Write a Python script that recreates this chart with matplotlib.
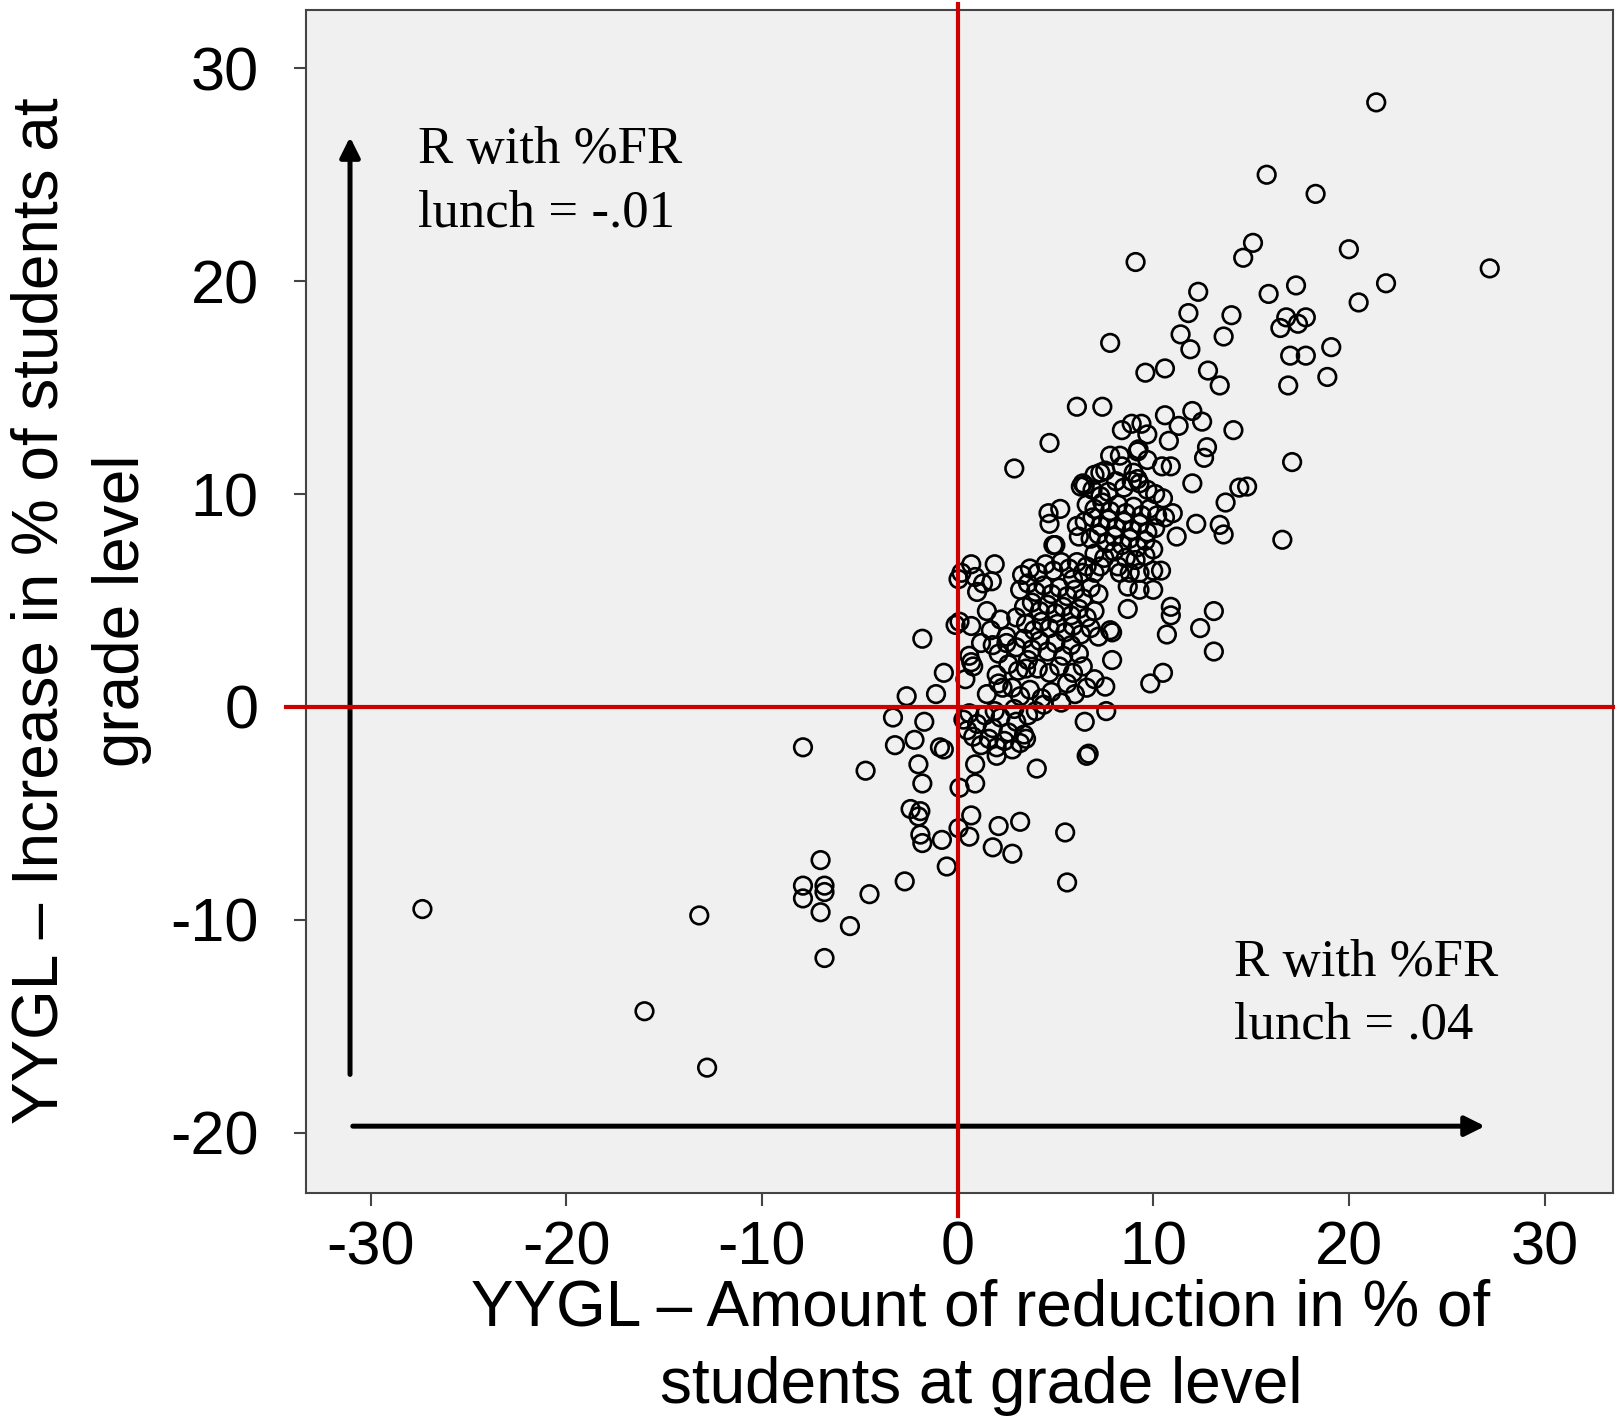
import matplotlib
matplotlib.use("Agg")
import matplotlib.pyplot as plt

plt.rcParams['font.family'] = ['Liberation Sans', 'DejaVu Sans']
plt.rcParams['axes.unicode_minus'] = False

# points (reduction %, increase %)
# upper right arm
x_upper = [21.4, 15.8, 18.3, 15.1, 14.6, 9.1, 20.0, 27.2, 21.9, 20.5, 17.3, 15.9, 12.3, 11.8,
           14.0, 11.4, 13.6, 11.9, 7.8, 16.8, 17.8, 17.4, 16.5, 19.1, 17.0, 17.8, 18.9, 16.9,
           9.6, 10.6, 12.8, 13.4, 6.1, 7.4, 10.6, 12.0]
y_upper = [28.4, 25.0, 24.1, 21.8, 21.1, 20.9, 21.5, 20.6, 19.9, 19.0, 19.8, 19.4, 19.5, 18.5,
           18.4, 17.5, 17.4, 16.8, 17.1, 18.3, 18.3, 18.0, 17.8, 16.9, 16.5, 16.5, 15.5, 15.1,
           15.7, 15.9, 15.8, 15.1, 14.1, 14.1, 13.7, 13.9]

# right side, y between 0 and 14
x_right = [8.4, 8.9, 9.4, 9.7, 11.3, 12.5, 14.1, 10.8, 9.25, 8.3, 12.75, 12.6, 17.1, 10.45,
           10.9, 12.0, 14.4, 14.8, 13.7, 12.2, 13.4, 13.6, 11.2, 16.6, 10.0, 10.4, 10.9, 10.9,
           13.1, 12.4, 10.7, 8.7, 13.1, 7.9, 7.9, 10.5, 9.85, 7.55, 11.0]
y_right = [13.0, 13.3, 13.3, 12.8, 13.2, 13.4, 13.0, 12.5, 12.1, 11.8, 12.2, 11.7, 11.5, 11.3,
           11.3, 10.5, 10.3, 10.35, 9.6, 8.6, 8.55, 8.1, 8.0, 7.85, 6.4, 6.4, 4.7, 4.3,
           4.5, 3.7, 3.4, 4.6, 2.6, 3.5, 2.2, 1.6, 1.1, 0.95, 9.1]

# main cluster, y between 6 and 13
x_mid = [4.7, 2.9, 9.2, 7.55, 7.3, 6.4, 6.3, 9.2, 4.65, 5.25, 4.7, 5.0, 6.1, 6.2, 5.9, 6.4,
         8.3, 8.8, 9.3, 8.7, 9.3, 10.0, 7.8, 8.4, 9.0, 9.7, 7.0,
         6.5, 6.9, 7.3, 7.7, 8.1, 8.5, 8.9, 9.3, 9.7, 10.1, 10.5,
         6.6, 7.0, 7.4, 7.8, 8.2, 8.6, 9.0, 9.4, 9.8, 10.2, 10.6,
         6.5, 6.9, 7.3, 7.7, 8.1, 8.5, 8.9, 9.3, 9.7, 10.1,
         6.8, 7.2, 7.6, 8.0, 8.4, 8.8, 9.2, 9.6, 10.0,
         7.0, 7.5, 8.0, 8.6, 9.1, 9.6, 7.3, 8.2]
y_mid = [12.4, 11.2, 12.0, 11.1, 11.0, 10.5, 10.35, 10.7, 9.1, 9.3, 8.6, 7.6, 8.5, 8.0, 6.0, 6.3,
         6.3, 6.3, 6.3, 5.65, 5.5, 5.5, 11.8, 11.3, 11.0, 11.6, 10.9,
         10.4, 10.2, 9.9, 10.1, 10.6, 10.3, 10.6, 10.5, 10.2, 10.0, 9.8,
         9.5, 9.3, 9.6, 9.2, 9.5, 9.1, 9.4, 9.0, 9.3, 9.0, 8.9,
         8.7, 8.9, 8.5, 8.8, 8.4, 8.7, 8.3, 8.6, 8.2, 8.4,
         7.9, 8.1, 7.7, 8.0, 7.6, 7.9, 7.5, 7.8, 7.4,
         7.2, 7.0, 7.3, 7.0, 6.9, 7.1, 6.6, 6.6]

# cluster between 3 and 7
x_low = [3.3, 3.7, 4.1, 4.5, 4.9, 5.3, 5.7, 6.1, 6.6, 7.0,
         3.2, 3.6, 4.0, 4.4, 4.8, 5.2, 5.6, 6.0, 6.4, 6.8, 7.2,
         3.4, 3.8, 4.2, 4.6, 5.0, 5.4, 5.8, 6.2, 6.6, 7.0,
         3.5, 3.9, 4.3, 4.7, 5.1, 5.5, 5.9, 6.3, 6.8, 7.2]
y_low = [6.2, 6.5, 6.3, 6.7, 6.4, 6.8, 6.5, 6.8, 6.6, 6.3,
         5.5, 5.8, 5.4, 5.7, 5.3, 5.6, 5.2, 5.5, 5.1, 5.6, 5.3,
         4.7, 4.9, 4.5, 4.8, 4.4, 4.7, 4.3, 4.6, 4.2, 4.5,
         3.9, 3.6, 4.0, 3.7, 3.9, 3.5, 3.8, 3.4, 3.7, 3.3]

# around the origin
x_orig = [-1.8, -0.7, -1.1, -2.6, 0.2, 0.7, 1.9, 0.9, 1.3, 1.75, 1.0, 0.05, 1.5, 0.1, -0.1,
          0.7, 1.7, 2.2, 3.0, 0.6, 0.7, 0.8, 0.4, 2.1, 2.0, 2.1, 3.5, 4.7, 5.6, 6.4, 7.0,
          7.8, 6.5, 6.7, 4.9, 1.2, 2.5, 1.8, 0.3,
          2.5, 3.0, 3.4, 3.8, 4.2, 4.6, 5.0, 5.4, 5.8, 6.2, 2.6, 3.1, 3.6, 4.1, 5.2, 5.9,
          2.8, 3.2, 3.7, 4.3, 4.8, 5.3, 6.0, 6.6,
          0.6, 1.0, 1.4, 1.8, 2.2, 2.6, 3.0, 3.4, 0.8, 1.2, 1.6, 2.0, 2.4, 2.8, 3.2, 0.5,
          1.9, 2.9, 3.6, 4.0, 4.4, 1.5, 2.3]
y_orig = [3.2, 1.6, 0.6, 0.5, 6.3, 6.7, 6.7, 6.1, 5.8, 5.9, 5.4, 6.0, 4.5, 4.0, 3.85,
          3.8, 3.6, 4.1, 4.2, 2.4, 2.1, 1.9, 1.3, 2.5, 1.5, 1.1, 1.8, 1.6, 1.1, 1.9, 1.3,
          3.6, -0.7, -2.2, 7.6, 3.0, 3.3, 2.9, -0.6,
          3.0, 2.8, 3.2, 2.7, 3.1, 2.6, 3.0, 2.4, 2.9, 2.5, 2.0, 1.7, 2.2, 1.8, 1.9, 1.6,
          0.9, 0.5, 0.8, 0.4, 0.7, 0.2, 0.6, 0.9,
          -0.3, -0.8, -0.4, -1.0, -0.5, -1.2, -0.7, -1.3, -1.4, -1.8, -1.5, -1.9, -1.6, -2.0, -1.7, -1.1,
          -0.2, -0.1, -0.4, -0.2, 0.1, 0.6, 0.9]

# below zero
x_neg = [-3.3, -1.7, -3.2, -2.2, -0.9, -0.7, -2.0, -4.7, -1.8, 0.1, 0.9, 0.9, -2.4, -1.9,
         -2.0, -1.9, -1.8, -0.8, 0.05, 0.7, 0.6, 2.1, 3.2, 1.8, 2.8, -0.55, -2.7, -4.5,
         5.5, 5.6, 4.05, 6.6, 7.6, 2.0, 3.5,
         -27.35, -13.2, -16.0, -12.8, -7.9, -7.0, -7.9, -6.8, -7.9, -6.8, -7.0, -5.5, -6.8]
y_neg = [-0.5, -0.7, -1.8, -1.55, -1.9, -2.0, -2.7, -3.0, -3.6, -3.8, -2.7, -3.6, -4.8, -4.9,
         -5.15, -6.0, -6.4, -6.25, -5.7, -5.1, -6.1, -5.6, -5.4, -6.6, -6.9, -7.5, -8.2, -8.8,
         -5.9, -8.25, -2.9, -2.3, -0.2, -2.3, -1.5,
         -9.5, -9.8, -14.3, -16.95, -1.9, -7.2, -8.4, -8.4, -9.0, -8.7, -9.65, -10.3, -11.8]

x_pts = x_upper + x_right + x_mid + x_low + x_orig + x_neg
y_pts = y_upper + y_right + y_mid + y_low + y_orig + y_neg

ticks = [-30, -20, -10, 0, 10, 20, 30]
yticks = [-20, -10, 0, 10, 20, 30]

fig = plt.figure(figsize=(16.16, 14.2), dpi=100)
ax = fig.add_axes([306 / 1616, 1 - 1193 / 1420, 1307 / 1616, 1183 / 1420])
ax.set_facecolor('#f0f0f0')

ax.scatter(x_pts, y_pts, s=160, facecolors='none', edgecolors='black', linewidths=1.9, zorder=3)

# red reference lines, they run a little past the frame
ax.plot([0, 0], [-23.9, 33.0], color='#cc0000', lw=3, zorder=4, clip_on=False)
ax.plot([-34.3, 33.5], [0, 0], color='#cc0000', lw=3, zorder=4, clip_on=False)

# arrows along the axes
ax.annotate('', xy=(-31.05, 26.9), xytext=(-31.05, -17.4),
            arrowprops=dict(arrowstyle='-|>', color='black', lw=3.6, mutation_scale=30))
ax.annotate('', xy=(27.1, -19.7), xytext=(-31.05, -19.7),
            arrowprops=dict(arrowstyle='-|>', color='black', lw=3.6, mutation_scale=30))

serif = ['Liberation Serif', 'DejaVu Serif']
ax.text(-27.6, 25.57, 'R with %FR', family=serif, fontsize=38, va='baseline')
ax.text(-27.6, 22.57, 'lunch = -.01', family=serif, fontsize=38, va='baseline')
ax.text(14.13, -12.64, 'R with %FR', family=serif, fontsize=38, va='baseline')
ax.text(14.13, -15.6, 'lunch = .04', family=serif, fontsize=38, va='baseline')

ax.set_xlim(-33.3, 33.5)
ax.set_ylim(-22.84, 32.74)
ax.set_xticks(ticks)
ax.set_yticks(yticks)
ax.tick_params(axis='both', labelsize=44, length=9, width=1.5, color='#444444')
ax.tick_params(axis='x', pad=11)
ax.tick_params(axis='y', pad=25)
for sp in ax.spines.values():
    sp.set_color('#444444')
    sp.set_linewidth(1.5)

fig.text(981 / 1616, 1 - 1309 / 1420, 'YYGL – Amount of reduction in % of',
         fontsize=46, ha='center', va='center')
fig.text(981 / 1616, 1 - 1386 / 1420, 'students at grade level',
         fontsize=46, ha='center', va='center')
fig.text(41 / 1616, 1 - 611 / 1420, 'YYGL – Increase in % of students at',
         fontsize=46, ha='center', va='center', rotation=90)
fig.text(122 / 1616, 1 - 611 / 1420, 'grade level',
         fontsize=46, ha='center', va='center', rotation=90)

fig.savefig('out.png', dpi=100)
